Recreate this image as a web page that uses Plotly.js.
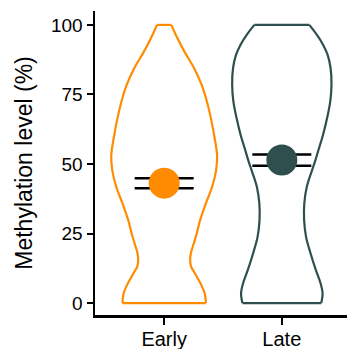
<!DOCTYPE html>
<html>
<head>
<meta charset="utf-8">
<script src="https://cdn.plot.ly/plotly-3.0.1.min.js"></script>
<style>html,body{margin:0;padding:0;background:#fff;}#chart{width:347px;height:349px;}</style>
</head>
<body>
<div id="chart"></div>
<script>
// ---- data ----
const categories = ["Early", "Late"];
const colors = ["#FF8C00", "#2F4F4F"];

// violin outlines: methylation level and relative density (1 = widest violin)
const earlyLevels  = [0, 3.6, 7.1, 10.7, 13.1, 15.5, 17.9, 21.5, 25, 29.5, 35.8, 41.8, 47.8, 53, 60.4, 66.4, 72.4, 78.4, 84.4, 90.4, 96.4, 100];
const earlyDensity = [0.789, 0.764, 0.685, 0.579, 0.509, 0.491, 0.504, 0.560, 0.615, 0.674, 0.787, 0.906, 0.981, 1.0, 0.943, 0.883, 0.808, 0.708, 0.566, 0.383, 0.221, 0.136];

const lateLevels  = [0, 3.5, 7.1, 11.9, 17.9, 23.8, 29.9, 35.9, 41.8, 47.8, 51.2, 54.6, 60.5, 66.5, 72.5, 78.5, 84.5, 89.3, 92.9, 96.5, 100];
const lateDensity = [0.745, 0.770, 0.732, 0.642, 0.542, 0.458, 0.421, 0.425, 0.472, 0.572, 0.632, 0.685, 0.779, 0.855, 0.915, 0.938, 0.921, 0.864, 0.779, 0.660, 0.519];

// mean and error per group
const means  = [43.1, 51.4];
const errors = [1.8, 2.05];

const yTicks = [0, 25, 50, 75, 100];

// ---- build traces ----
const maxHalfWidth = 0.45; // violin width 0.9 in category units
const fontFam = "Liberation Sans, Arial, Helvetica, sans-serif";

function violinTraces(idx, levels, dens) {
  const c = idx;
  const xs = [], ys = [];
  for (let i = 0; i < levels.length; i++) { xs.push(c + dens[i] * maxHalfWidth); ys.push(levels[i]); }
  xs.push(null); ys.push(null);
  for (let i = levels.length - 1; i >= 0; i--) { xs.push(c - dens[i] * maxHalfWidth); ys.push(levels[i]); }
  const n = levels.length - 1;
  const side = {
    x: xs, y: ys, mode: "lines", type: "scatter",
    line: {color: colors[idx], width: 2.2, shape: "spline", smoothing: 1},
    hoverinfo: "skip", connectgaps: false
  };
  const caps = {
    x: [c - dens[0] * maxHalfWidth, c + dens[0] * maxHalfWidth, null, c - dens[n] * maxHalfWidth, c + dens[n] * maxHalfWidth],
    y: [levels[0], levels[0], null, levels[n], levels[n]],
    mode: "lines", type: "scatter",
    line: {color: colors[idx], width: 2.2},
    hoverinfo: "skip", connectgaps: false
  };
  return [side, caps];
}

const traces = [];
traces.push(...violinTraces(0, earlyLevels, earlyDensity));
traces.push(...violinTraces(1, lateLevels, lateDensity));

for (let i = 0; i < categories.length; i++) {
  traces.push({
    x: [i], y: [means[i]], type: "scatter", mode: "markers",
    marker: {size: 31, color: colors[i], line: {width: 0}},
    error_y: {type: "data", array: [errors[i]], visible: true, color: "#000", thickness: 2.5, width: 29.5},
    name: categories[i]
  });
}

const axisCommon = {
  showline: true, linecolor: "#000", linewidth: 2.5,
  ticks: "outside", ticklen: 6, tickwidth: 2, tickcolor: "#000",
  showgrid: false, zeroline: false,
  tickfont: {family: fontFam, size: 19, color: "#000"}
};

const layout = {
  width: 347, height: 349,
  margin: {l: 95, r: 0, t: 11, b: 34},
  paper_bgcolor: "#fff", plot_bgcolor: "#fff",
  showlegend: false,
  xaxis: Object.assign({}, axisCommon, {
    range: [-0.588, 1.554], tickmode: "array", tickvals: [0, 1], ticktext: categories, ticklen: 7,
    ticklabelstandoff: -3,
    tickfont: {family: fontFam, size: 20, color: "#000"}
  }),
  yaxis: Object.assign({}, axisCommon, {
    range: [-4.3, 105], tickmode: "array", tickvals: yTicks, ticktext: yTicks.map(String),
    title: {text: "Methylation level (%)", font: {family: fontFam, size: 23, color: "#000"}, standoff: 12}
  })
};

Plotly.newPlot("chart", traces, layout, {displayModeBar: false, staticPlot: true});
</script>
</body>
</html>
